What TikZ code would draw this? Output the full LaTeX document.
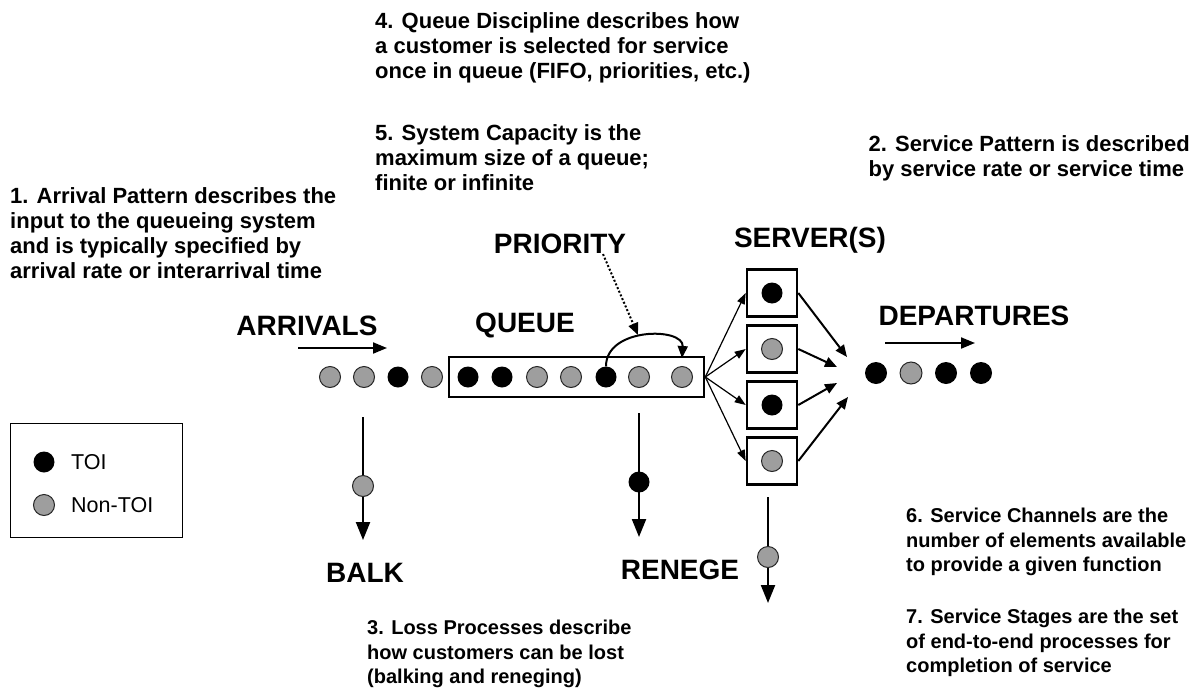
\documentclass[tikz,border=0pt]{standalone}
\usepackage{fontspec}
\setmainfont{Liberation Sans}
\usetikzlibrary{arrows.meta}
\tikzset{toi/.style={circle,fill=black,minimum size=21pt,inner sep=0pt},
nontoi/.style={circle,draw=black!85,line width=1pt,fill=black!38,minimum size=21pt,inner sep=0pt},
serverbox/.style={draw,line width=2.6pt,minimum width=50pt,minimum height=47pt,inner sep=0pt},
note/.style={anchor=north west,align=left,inner sep=0pt,font=\bfseries\fontsize{20}{24.5}\selectfont},
bignote/.style={note,font=\bfseries\fontsize{22}{25}\selectfont},
title/.style={inner sep=0pt,font=\bfseries\fontsize{28}{32}\selectfont},
legendtext/.style={anchor=west,inner sep=0pt,font=\fontsize{21.5}{24}\selectfont},
arrow/.style={-{Triangle[length=18pt,width=14pt]},line width=2.2pt},
flow/.style={-{Triangle[length=14pt,width=11pt]},line width=2pt},
split/.style={-{Triangle[length=11pt,width=8pt]},line width=1.2pt}}

\begin{document}
\begin{tikzpicture}[x=1pt,y=-1pt]
\useasboundingbox (0,0) rectangle (1196,696);
\node[bignote] (n1) at (10,187) {1. Arrival Pattern describes the\\input to the queueing system\\and is typically specified by\\arrival rate or interarrival time};
\node[bignote] (n4) at (375,12) {4. Queue Discipline describes how\\a customer is selected for service\\once in queue (FIFO, priorities, etc.)};
\node[bignote] (n5) at (375,124) {5. System Capacity is the\\maximum size of a queue;\\finite or infinite};
\node[bignote,anchor=north east] (n2) at (1190,135) {2. Service Pattern is described\\by service rate or service time};
\node[note] (n6) at (906,508) {6. Service Channels are the\\number of elements available\\to provide a given function};
\node[note] (n7) at (906,609) {7. Service Stages are the set\\of end-to-end processes for\\completion of service};
\node[note] (n3) at (367,620) {3. Loss Processes describe\\how customers can be lost\\(balking and reneging)};

\node[title] (arrivals) at (307,326) {ARRIVALS};
\node[title] (queuelab) at (525,325) {QUEUE};
\node[title] (prio) at (560,244) {PRIORITY};
\node[title] (servers) at (810,240) {SERVER(S)};
\node[title] (departures) at (974,316) {DEPARTURES};
\node[title] (balk) at (365,573) {BALK};
\node[title] (renege) at (680,570) {RENEGE};

\node[draw,line width=2.6pt,minimum width=255pt,minimum height=40pt] (queue) at (576.5,377) {};
\foreach \x/\s [count=\i] in {330/nontoi,364/nontoi,398/toi,432/nontoi}
  \node[\s] (a\i) at (\x,377) {};
\foreach \x/\s [count=\i] in {468/toi,502/toi,537/nontoi,571/nontoi,606/toi,639/nontoi,682/nontoi}
  \node[\s] (q\i) at (\x,377) {};
\foreach \y/\s [count=\i] in {293/toi,349/nontoi,405/toi,461/nontoi}{
  \node[serverbox] (s\i) at (772,\y) {};
  \node[\s] (sd\i) at (s\i) {};
}
\foreach \x/\s [count=\i] in {876/toi,911/nontoi,946/toi,981/toi}
  \node[\s,minimum size=22pt] (d\i) at (\x,373) {};

\coordinate (arrin) at (298,348);
\coordinate (arrout) at (387,348);
\coordinate (depin) at (885,343);
\coordinate (depout) at (975,343);
\draw[flow] (arrin) -- (arrout);
\draw[flow] (depin) -- (depout);

\foreach \i in {1,...,4}
  \draw[split] (queue.east) -- (s\i.west);
\coordinate (c1) at (847,357);
\coordinate (c2) at (837,367);
\coordinate (c3) at (837,383);
\coordinate (c4) at (848,397);
\foreach \i in {1,...,4}
  \draw[flow,-{Triangle[length=12pt,width=10pt]}] (s\i.east) -- (c\i);

\coordinate (ptop) at (638,335);
\draw[line width=2pt,-{Triangle[length=12pt,width=10pt]}] (q5.north) .. controls (606,327) and (684,327) .. ([yshift=8pt]q7.north);
\draw[line width=2pt,dash pattern=on 2pt off 2pt,-{Triangle[length=12pt,width=10pt]}] ([xshift=43pt]prio.south) -- (ptop);

\coordinate (b0) at (363,417);
\coordinate (b1) at (363,540);
\draw[arrow] (b0) -- (b1);
\node[nontoi] (bdot) at (363,486) {};
\coordinate (r0) at (639,413);
\coordinate (r1) at (639,537);
\draw[arrow] (r0) -- (r1);
\node[toi] (rdot) at (639,482) {};
\coordinate (l0) at (768,497);
\coordinate (l1) at (768,603);
\draw[arrow] (l0) -- (l1);
\node[nontoi] (ldot) at (768,557) {};

\node[draw,line width=1pt,minimum width=172pt,minimum height=114pt] (legend) at (96,480) {};
\node[toi] (ltoi) at (44,462) {};
\node[legendtext] (ltoitext) at (71,462) {TOI};
\node[nontoi] (lnon) at (44,505) {};
\node[legendtext] (lnontext) at (71,505) {Non-TOI};
\end{tikzpicture}
\end{document}
